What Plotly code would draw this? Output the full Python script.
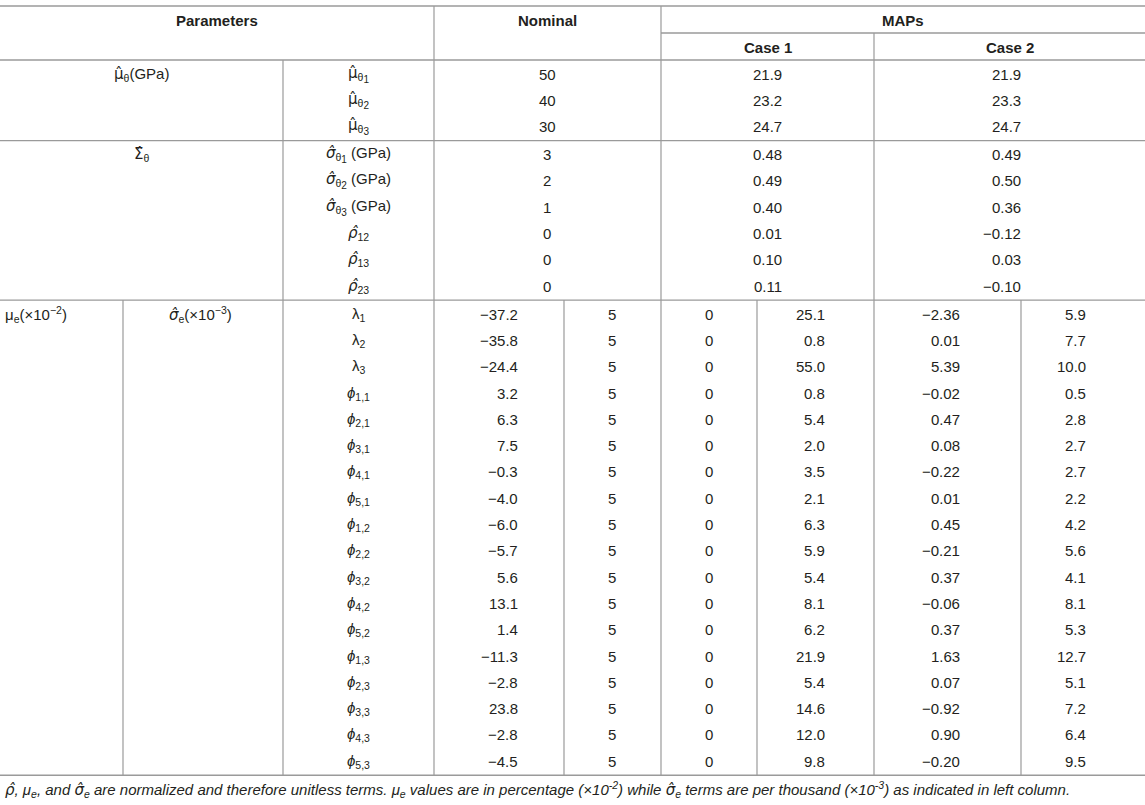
import plotly.graph_objects as go

W, H = 1145, 805

# --- header ---
HEADER_TOP = ["Parameters", "Nominal", "MAPs"]
HEADER_CASES = ["Case 1", "Case 2"]


def hat(ch, italic=False):
    # combining hats sit properly only in DejaVu
    s = f"<span style='font-family:DejaVu Sans'>{ch}\u0302</span>"
    return f"<i>{s}</i>" if italic else s


def theta_sub(k):
    return f"<sub>θ<sub><span style='font-size:10px'>{k}</span></sub></sub>"


# --- section 1: mean of theta ---
MU_GROUP = hat("μ") + "<sub>θ</sub>(GPa)"
MU_PARAMS = [hat("μ") + theta_sub(1), hat("μ") + theta_sub(2), hat("μ") + theta_sub(3)]
MU_NOMINAL = [50, 40, 30]
MU_CASE1 = [21.9, 23.2, 24.7]
MU_CASE2 = [21.9, 23.3, 24.7]

# --- section 2: covariance of theta ---
SIGMA_GROUP = hat("Σ") + "<sub>θ</sub>"
SIGMA_PARAMS = [
    hat("σ", True) + theta_sub(1) + " (GPa)",
    hat("σ", True) + theta_sub(2) + " (GPa)",
    hat("σ", True) + theta_sub(3) + " (GPa)",
    hat("ρ", True) + "<sub>12</sub>",
    hat("ρ", True) + "<sub>13</sub>",
    hat("ρ", True) + "<sub>23</sub>",
]
SIGMA_NOMINAL = [3, 2, 1, 0, 0, 0]
SIGMA_CASE1 = [0.48, 0.49, 0.40, 0.01, 0.10, 0.11]
SIGMA_CASE2 = [0.49, 0.50, 0.36, -0.12, 0.03, -0.10]

# --- section 3: model error terms ---
ERR_GROUP_MU = "μ<sub>e</sub>(×10<sup>−2</sup>)"
ERR_GROUP_SIGMA = hat("σ", True) + "<sub>e</sub>(×10<sup>−3</sup>)"
ERR_PARAMS = (
    ["λ<sub>1</sub>", "λ<sub>2</sub>", "λ<sub>3</sub>"]
    + [f"<i>ϕ</i><sub>{i},{j}</sub>" for j in (1, 2, 3) for i in (1, 2, 3, 4, 5)]
)
ERR_NOM_MU = [-37.2, -35.8, -24.4, 3.2, 6.3, 7.5, -0.3, -4.0, -6.0,
              -5.7, 5.6, 13.1, 1.4, -11.3, -2.8, 23.8, -2.8, -4.5]
ERR_NOM_SIGMA = [5, 5, 5, 5, 5, 5, 5, 5, 5, 5, 5, 5, 5, 5, 5, 5, 5, 5]
ERR_C1_MU = [0, 0, 0, 0, 0, 0, 0, 0, 0, 0, 0, 0, 0, 0, 0, 0, 0, 0]
ERR_C1_SIGMA = [25.1, 0.8, 55.0, 0.8, 5.4, 2.0, 3.5, 2.1, 6.3,
                5.9, 5.4, 8.1, 6.2, 21.9, 5.4, 14.6, 12.0, 9.8]
ERR_C2_MU = [-2.36, 0.01, 5.39, -0.02, 0.47, 0.08, -0.22, 0.01, 0.45,
             -0.21, 0.37, -0.06, 0.37, 1.63, 0.07, -0.92, 0.90, -0.20]
ERR_C2_SIGMA = [5.9, 7.7, 10.0, 0.5, 2.8, 2.7, 2.7, 2.2, 4.2,
                5.6, 4.1, 8.1, 5.3, 12.7, 5.1, 7.2, 6.4, 9.5]

FOOTNOTE = (
    "<i>" + hat("ρ") + ", μ<sub>e</sub>, and " + hat("σ") + "<sub>e</sub> are normalized and "
    "therefore unitless terms. μ<sub>e</sub> values are in percentage (×10<sup>-2</sup>) while "
    + hat("σ") + "<sub>e</sub> terms are per thousand (×10<sup>-3</sup>) as indicated in left column.</i>"
)

FONT = "Liberation Sans, Arial, sans-serif"
TEXT_COLOR = "#231f20"
LINE_COLOR = "#9a9a9a"

# layout geometry (pixels)
TOP_LINE, MAPS_LINE, HEADER_LINE = 6, 33, 60
ROW_PAD, ROW_PITCH = 14, 26.3
X_LEFT, X_RIGHT = 0, W
X_PARAM_SPLIT, X_NOMINAL, X_MAPS, X_CASE2 = 283, 434, 661, 874
X_ERR_SPLIT, X_NOM_SPLIT, X_C1_SPLIT, X_C2_SPLIT = 123, 564, 757, 1021


def fmt(value, digits):
    return f"{value:.{digits}f}".replace("-", "−")


def row_y(top, i):
    return top + ROW_PAD + i * ROW_PITCH


def section_bottom(top, n):
    return top + 2 * ROW_PAD + (n - 1) * ROW_PITCH


fig = go.Figure()
annotations = []
shapes = []


def text(x, y, s, anchor="center", size=15, bold=False):
    if bold:
        s = f"<b>{s}</b>"
    annotations.append(dict(
        x=x, y=y, xref="x", yref="y", text=s, showarrow=False,
        xanchor=anchor, yanchor="middle",
        font=dict(family=FONT, size=size, color=TEXT_COLOR),
    ))


def hline(y, x0=X_LEFT, x1=X_RIGHT, width=1.4):
    shapes.append(dict(type="line", xref="x", yref="y", x0=x0, x1=x1, y0=y, y1=y,
                       line=dict(color=LINE_COLOR, width=width)))


def vline(x, y0, y1):
    shapes.append(dict(type="line", xref="x", yref="y", x0=x, x1=x, y0=y0, y1=y1,
                       line=dict(color=LINE_COLOR, width=1.2)))


# header
text((X_LEFT + X_NOMINAL) / 2, 20, HEADER_TOP[0], bold=True)
text((X_NOMINAL + X_MAPS) / 2, 20, HEADER_TOP[1], bold=True)
text((X_MAPS + X_RIGHT) / 2, 20, HEADER_TOP[2], bold=True)
text((X_MAPS + X_CASE2) / 2, 47, HEADER_CASES[0], bold=True)
text((X_CASE2 + X_RIGHT) / 2, 47, HEADER_CASES[1], bold=True)

# section 1
s1_top = HEADER_LINE
text((X_LEFT + X_PARAM_SPLIT) / 2, row_y(s1_top, 0), MU_GROUP)
for i, name in enumerate(MU_PARAMS):
    y = row_y(s1_top, i)
    text((X_PARAM_SPLIT + X_NOMINAL) / 2, y, name)
    text(547, y, fmt(MU_NOMINAL[i], 0))
    text(784, y, fmt(MU_CASE1[i], 1), anchor="right")
    text(1023, y, fmt(MU_CASE2[i], 1), anchor="right")
s2_top = section_bottom(s1_top, len(MU_PARAMS))

# section 2
text((X_LEFT + X_PARAM_SPLIT) / 2, row_y(s2_top, 0), SIGMA_GROUP)
for i, name in enumerate(SIGMA_PARAMS):
    y = row_y(s2_top, i)
    text((X_PARAM_SPLIT + X_NOMINAL) / 2, y, name)
    text(547, y, fmt(SIGMA_NOMINAL[i], 0))
    text(784, y, fmt(SIGMA_CASE1[i], 2), anchor="right")
    text(1023, y, fmt(SIGMA_CASE2[i], 2), anchor="right")
s3_top = section_bottom(s2_top, len(SIGMA_PARAMS))

# section 3
text(3, row_y(s3_top, 0), ERR_GROUP_MU, anchor="left")
text(200, row_y(s3_top, 0), ERR_GROUP_SIGMA)
for i, name in enumerate(ERR_PARAMS):
    y = row_y(s3_top, i)
    text((X_PARAM_SPLIT + X_NOMINAL) / 2, y, name)
    text(520, y, fmt(ERR_NOM_MU[i], 1), anchor="right")
    text(612, y, fmt(ERR_NOM_SIGMA[i], 0))
    text(709, y, fmt(ERR_C1_MU[i], 0))
    text(827, y, fmt(ERR_C1_SIGMA[i], 1), anchor="right")
    text(962, y, fmt(ERR_C2_MU[i], 2), anchor="right")
    text(1088, y, fmt(ERR_C2_SIGMA[i], 1), anchor="right")
bottom = section_bottom(s3_top, len(ERR_PARAMS))

text(3, bottom + 14, FOOTNOTE, anchor="left", size=15)

# rules
hline(TOP_LINE, width=1.6)
hline(MAPS_LINE, x0=X_MAPS)
hline(HEADER_LINE, width=1.6)
hline(s2_top)
hline(s3_top)
hline(bottom, width=1.6)
vline(X_NOMINAL, TOP_LINE, bottom)
vline(X_MAPS, TOP_LINE, bottom)
vline(X_CASE2, MAPS_LINE, bottom)
vline(X_PARAM_SPLIT, HEADER_LINE, bottom)
for x in (X_ERR_SPLIT, X_NOM_SPLIT, X_C1_SPLIT, X_C2_SPLIT):
    vline(x, s3_top, bottom)

fig.update_layout(
    width=W, height=H, autosize=False,
    margin=dict(l=0, r=0, t=0, b=0),
    paper_bgcolor="white", plot_bgcolor="white",
    xaxis=dict(range=[0, W], visible=False, fixedrange=True),
    yaxis=dict(range=[H, 0], visible=False, fixedrange=True),
    annotations=annotations, shapes=shapes, showlegend=False,
)

fig.write_html(
    "out.html",
    config={"displayModeBar": False},
    post_script="document.body.style.margin='0';document.body.style.overflow='hidden';",
)
